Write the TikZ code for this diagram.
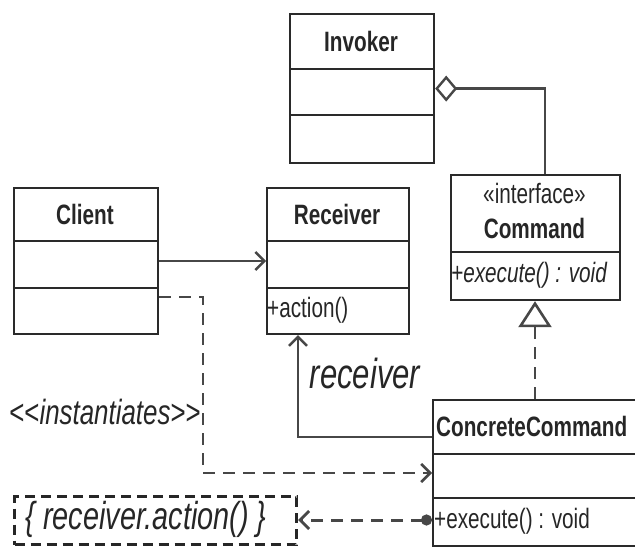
\documentclass[tikz,border=0pt]{standalone}
\usepackage{fontspec}
\setmainfont{Liberation Sans}[FakeStretch=0.74]
\usetikzlibrary{arrows.meta}
\definecolor{boxline}{HTML}{2A2A2A}
\definecolor{linkline}{HTML}{474747}
\tikzset{
	cls/.style={draw=boxline, line width=2.2pt, inner sep=0pt, anchor=north west},
	sep/.style={draw=boxline, line width=2.8pt},
	title/.style={font=\fontsize{28}{30}\selectfont\bfseries, inner sep=0pt, text=black!85},
	member/.style={font=\fontsize{28}{30}\selectfont, inner sep=0pt, anchor=west, text=black!85},
	nav/.style={draw=linkline, line width=2.4pt, -{Straight Barb[length=9pt,width=18pt]}},
	dep/.style={nav, line width=2.6pt, dash pattern=on 12pt off 8pt},
	agg/.style={draw=linkline, line width=2.4pt, -{Diamond[open,length=22pt,width=26pt]}},
	real/.style={draw=linkline, line width=2.6pt, dash pattern=on 12pt off 8pt, -{Triangle[open,length=26pt,width=33pt]}},
	call/.style={draw=linkline, line width=3pt, dash pattern=on 12pt off 8pt, {Circle[length=11pt]}-{Straight Barb[length=9pt,width=18pt]}},
	notebox/.style={draw=black!85, line width=3pt, dash pattern=on 10pt off 6pt, inner sep=0pt, anchor=north west}
}

\begin{document}
\begin{tikzpicture}[x=1pt, y=-1pt]
				\useasboundingbox (0,0) rectangle (635,548);
				
				\node[cls, minimum width=144pt, minimum height=149pt] (invoker) at (289,13) {};
				\draw[sep] (invoker.west |- 0,69) -- (invoker.east |- 0,69);
				\draw[sep] (invoker.west |- 0,115) -- (invoker.east |- 0,115);
				\node[title] (invokername) at (361,41) {Invoker};
				
				\node[cls, minimum width=144pt, minimum height=146pt] (client) at (13,187) {};
				\draw[sep] (client.west |- 0,241) -- (client.east |- 0,241);
				\draw[sep] (client.west |- 0,288) -- (client.east |- 0,288);
				\node[title] (clientname) at (85,214) {Client};
				
				\node[cls, minimum width=142pt, minimum height=146pt] (receiver) at (266,187) {};
				\draw[sep] (receiver.west |- 0,241) -- (receiver.east |- 0,241);
				\draw[sep] (receiver.west |- 0,288) -- (receiver.east |- 0,288);
				\node[title] (receivername) at (337,214) {Receiver};
				\node[member] (action) at (267,310) {+action()};
				
				\node[cls, minimum width=169pt, minimum height=125pt] (command) at (450,174) {};
				\draw[sep] (command.west |- 0,252) -- (command.east |- 0,252);
				\node[member, anchor=center] (stereo) at (534.5,193) {«interface»};
				\node[title] (commandname) at (534.5,228) {Command};
				\node[member] (abstractexec) at (451,275) {\itshape +execute() : void};
				
				\node[cls, minimum width=230pt, minimum height=146pt] (concrete) at (432,399) {};
				\draw[sep] (concrete.west |- 0,454) -- (concrete.east |- 0,454);
				\draw[sep] (concrete.west |- 0,498) -- (concrete.east |- 0,498);
				\node[title, anchor=west] (concretename) at (436,426) {ConcreteCommand};
				\node[member] (concreteexec) at (434,521) {+execute() : void};
				
				\node[notebox, minimum width=282pt, minimum height=48pt] (note) at (13,495) {};
				\node[inner sep=0pt, font=\fontsize{39}{40}\selectfont\itshape, text=black!85] (notetext) at (146,519) {\{ receiver.action() \}};
				
				\draw[agg] (command.north -| 545,0) |- (invoker.east);
				\draw[nav] (client.east |- 0,261) -- (receiver.west |- 0,261);
				\draw[dep] (client.east |- 0,297) -| (203,473) -- (concrete.west |- 0,473);
				\draw[nav] (concrete.west |- 0,437) -| (receiver.south -| 298,0);
				\draw[real] (concrete.north -| 535,0) -- (command.south -| 535,0);
				\draw[call] (concrete.west |- 0,520) -- (note.east |- 0,520);
				
				\node[inner sep=0pt, font=\fontsize{42}{44}\selectfont\itshape, text=black!85] (rolelabel) at (365,373) {receiver};
				\node[inner sep=0pt, anchor=east, font=\fontsize{35}{36}\selectfont, text=black!85] (instlabel) at (201,412) {{<}{<}\textit{instantiates}{>}{>}};
			\end{tikzpicture}
\end{document}
